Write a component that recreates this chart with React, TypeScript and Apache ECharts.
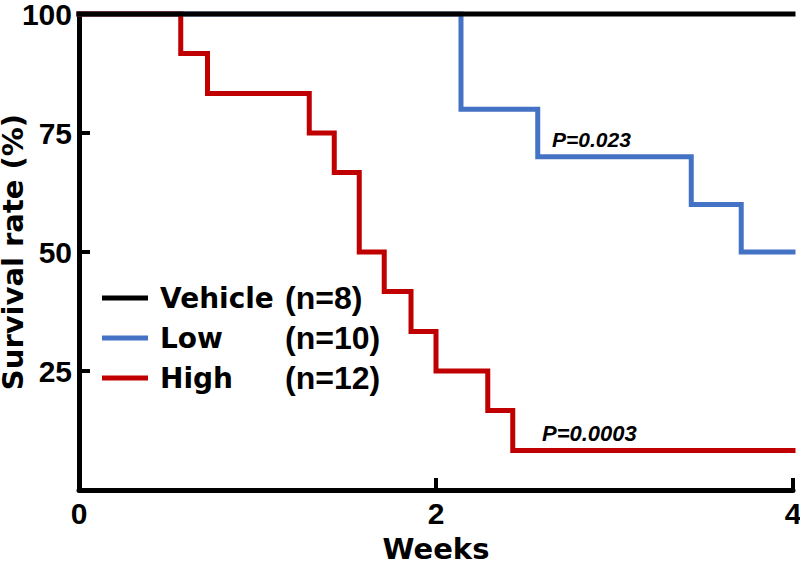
import React, { useEffect, useRef } from "react";
import * as echarts from "echarts";

const groupNames = ["Vehicle", "Low", "High"];
const groupCounts = ["(n=8)", "(n=10)", "(n=12)"];
const groupColors = ["#000000", "#4472C4", "#C00000"];

const vehicleWeeks = [0, 4];
const vehicleSurvival = [100, 100];

const lowWeeks = [0, 2.14, 2.57, 3.43, 3.71, 4];
const lowSurvival = [100, 80, 70, 60, 50, 50];

const highWeeks = [0, 0.57, 0.72, 1.29, 1.43, 1.57, 1.71, 1.86, 2.0, 2.29, 2.43, 4];
const highSurvival = [100, 91.7, 83.3, 75, 66.7, 50, 41.7, 33.3, 25, 16.7, 8.3, 8.3];

const pLow = "P=0.023";
const pHigh = "P=0.0003";

const WORD_FONT = '"DejaVu Sans", sans-serif';
const NUM_FONT = '"Liberation Sans", Arial, sans-serif';

function pairs(xs: number[], ys: number[]) {
  return xs.map((x, i) => [x, ys[i]]);
}

export default function App() {
  const ref = useRef<HTMLDivElement>(null);
  useEffect(() => {
    if (!ref.current) return;
    const chart = echarts.init(ref.current, undefined, { renderer: "svg" });
    const seriesData = [
      pairs(vehicleWeeks, vehicleSurvival),
      pairs(lowWeeks, lowSurvival),
      pairs(highWeeks, highSurvival),
    ];
    chart.setOption({
      animation: false,
      backgroundColor: "#ffffff",
      grid: { left: 79, right: 7, top: 14, bottom: 71, containLabel: false, outerBoundsMode: "none" },
      xAxis: {
        type: "value",
        min: 0,
        max: 4,
        interval: 2,
        name: "Weeks",
        nameLocation: "middle",
        nameGap: 48,
        nameMoveOverlap: false,
        nameTextStyle: { fontFamily: WORD_FONT, fontWeight: "bold", fontSize: 29, color: "#000", lineHeight: 22 },
        axisLine: { show: true, lineStyle: { color: "#000", width: 5 } },
        axisTick: { show: true, inside: true, length: 12, lineStyle: { color: "#000", width: 4 } },
        axisLabel: { fontFamily: NUM_FONT, fontWeight: "bold", fontSize: 30, color: "#000", margin: 8 },
        splitLine: { show: false },
      },
      yAxis: {
        type: "value",
        min: 0,
        max: 100,
        interval: 25,
        name: "Survival rate (%)",
        nameLocation: "middle",
        nameGap: 52,
        nameMoveOverlap: false,
        nameTextStyle: { fontFamily: WORD_FONT, fontWeight: "bold", fontSize: 29, color: "#000", lineHeight: 28 },
        axisLine: { show: true, lineStyle: { color: "#000", width: 5 } },
        axisTick: { show: true, inside: true, length: 11, lineStyle: { color: "#000", width: 4 } },
        axisLabel: {
          fontFamily: NUM_FONT,
          fontWeight: "bold",
          fontSize: 30,
          lineHeight: 24,
          color: "#000",
          margin: 7,
          formatter: (v: number) => (v === 0 ? "" : String(v)),
        },
        splitLine: { show: false },
      },
      legend: {
        orient: "vertical",
        left: 102,
        top: 282,
        padding: 0,
        itemWidth: 46,
        itemHeight: 5,
        itemGap: 8,
        icon: "rect",
        data: groupNames,
        formatter: (name: string) => {
          const i = groupNames.indexOf(name);
          return `{a|${name}}{b|${groupCounts[i]}}`;
        },
        textStyle: {
          rich: {
            a: { fontFamily: WORD_FONT, fontWeight: "bold", fontSize: 28, color: "#000", width: 125, padding: [0, 0, 0, 7], lineHeight: 30 },
            b: { fontFamily: NUM_FONT, fontWeight: "bold", fontSize: 32, color: "#000", lineHeight: 30 },
          },
        },
      },
      graphic: [
        {
          type: "text",
          left: 552,
          top: 129,
          style: { text: pLow, fontFamily: NUM_FONT, fontWeight: "bold", fontStyle: "italic", fontSize: 21, fill: "#000" },
        },
        {
          type: "text",
          left: 542,
          top: 422,
          style: { text: pHigh, fontFamily: NUM_FONT, fontWeight: "bold", fontStyle: "italic", fontSize: 22, fill: "#000" },
        },
      ],
      series: groupNames.map((name, i) => ({
        name,
        type: "line",
        step: "end",
        data: seriesData[i],
        showSymbol: false,
        symbol: "none",
        clip: false,
        z: i === 0 ? 5 : 3,
        color: groupColors[i],
        lineStyle: { color: groupColors[i], width: 5, cap: "square", join: "miter" },
        itemStyle: { color: groupColors[i] },
      })),
    });
    return () => chart.dispose();
  }, []);
  return (
    <div
      ref={ref}
      style={{ position: "fixed", left: 0, top: 0, width: 800, height: 561, background: "#fff" }}
    />
  );
}
